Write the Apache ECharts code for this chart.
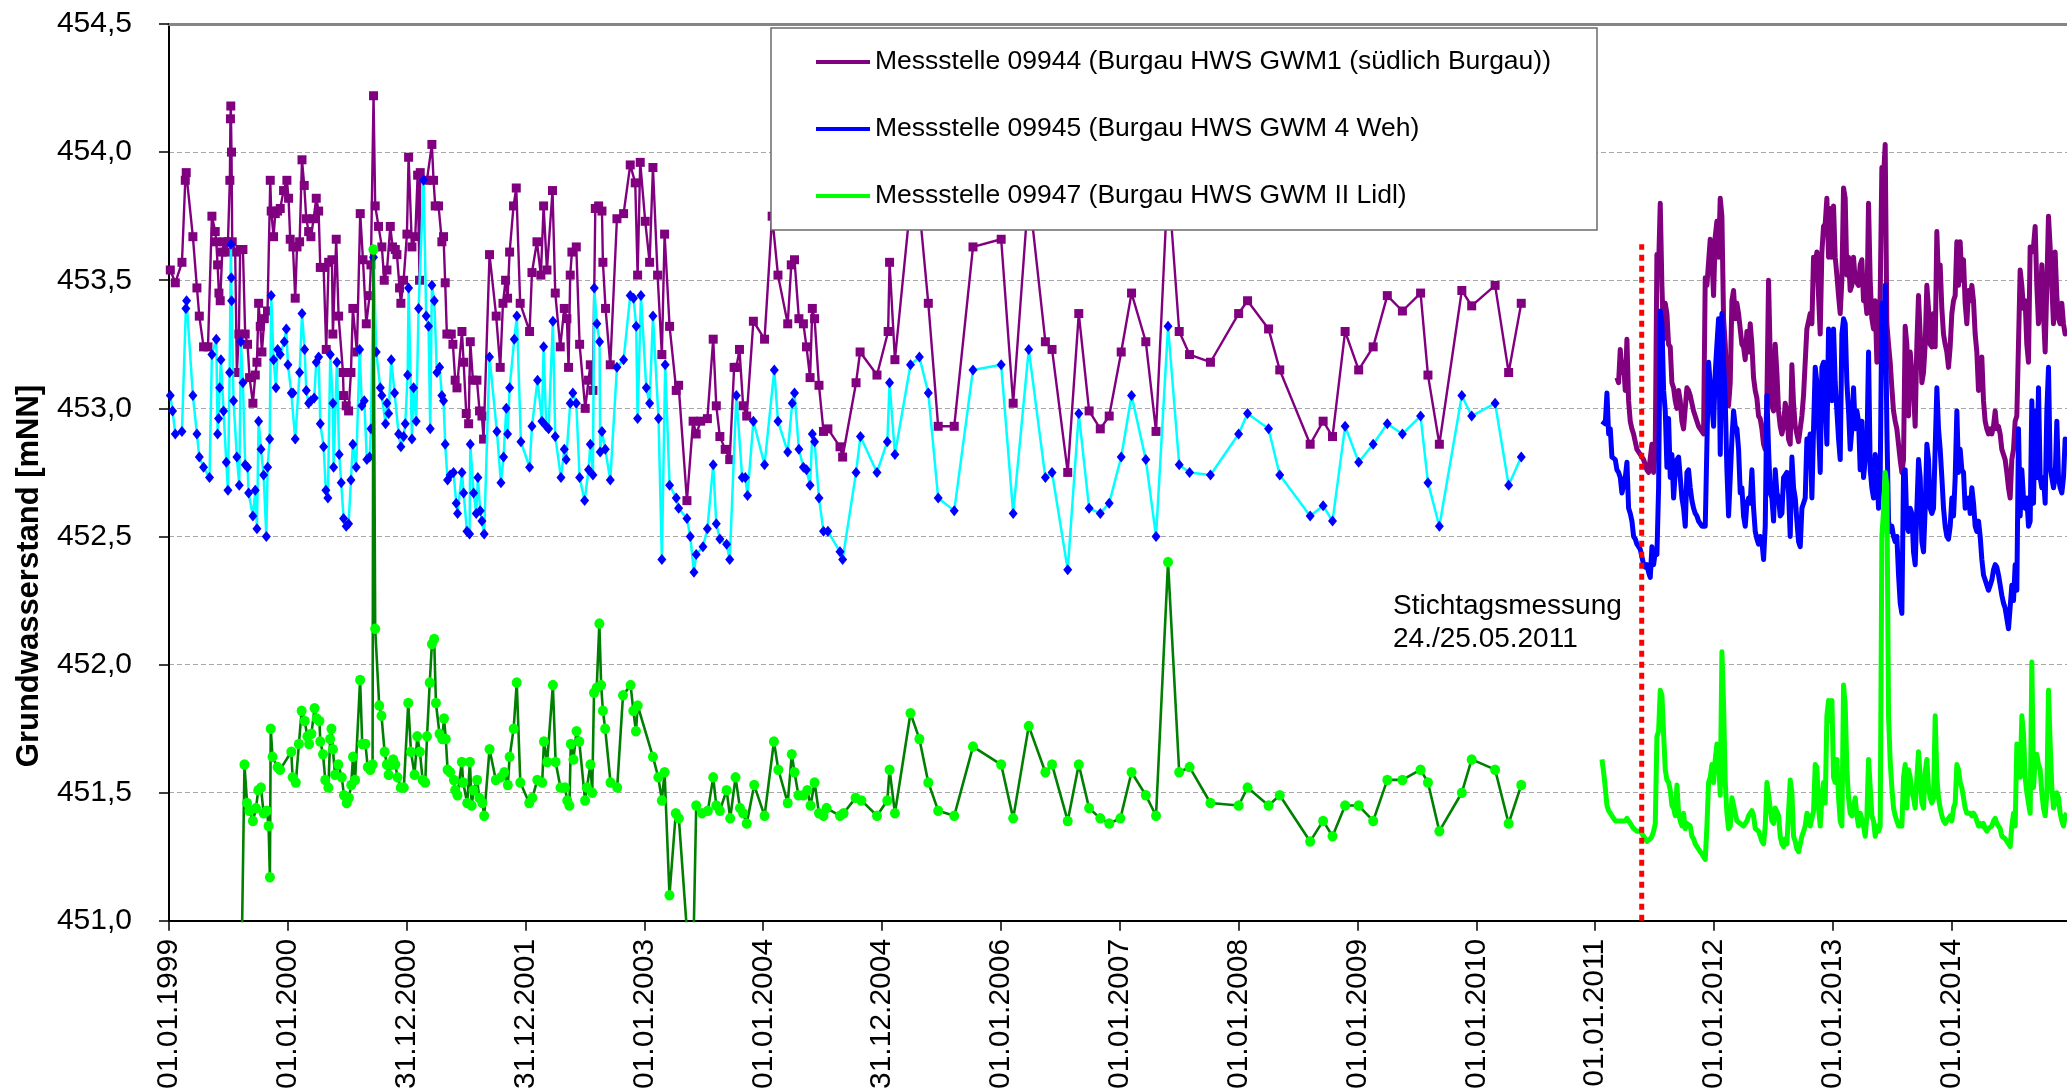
<!DOCTYPE html>
<html>
<head>
<meta charset="utf-8">
<title>Grundwasserstand Burgau</title>
<script src="https://cdn.jsdelivr.net/npm/echarts/dist/echarts.min.js"></script>
<style>
  html, body { margin: 0; padding: 0; background: #ffffff; }
  #chart { width: 2067px; height: 1092px; }
</style>
</head>
<body>
<div id="chart"></div>
<script>
// Time is given in decimal years (365.25-day units counted from 01.01.1999).
const xTickLabels = ['01.01.1999', '01.01.2000', '31.12.2000', '31.12.2001', '01.01.2003', '01.01.2004',
  '31.12.2004', '01.01.2006', '01.01.2007', '01.01.2008', '01.01.2009', '01.01.2010',
  '01.01.2011', '01.01.2012', '01.01.2013', '01.01.2014'];
const X_START = 1999;
const X_END = 2014.97;
const Y_MIN = 451.0;
const Y_MAX = 454.5;
const Y_STEP = 0.5;

const stationNames = [
  'Messstelle 09944 (Burgau HWS GWM1 (südlich Burgau))',
  'Messstelle 09945 (Burgau HWS GWM 4 Weh)',
  'Messstelle 09947 (Burgau HWS GWM II Lidl)'
];

// Reference day measurement
const stichtagDate = [2011, 5, 24];
const stichtagLabel = 'Stichtagsmessung\n24./25.05.2011';
const stichtagTop = 453.64;

// Single manual readings 1999-2010 [time, level mNN]
const m09944Hist = [[1999.011,453.54],[1999.053,453.49],[1999.109,453.57],[1999.137,453.89],[1999.145,453.92],[1999.201,453.67],[1999.235,453.47],[1999.255,453.36],[1999.291,453.24],[1999.328,453.24],[1999.361,453.75],[1999.389,453.69],[1999.398,453.65],[1999.409,453.56],[1999.420,453.45],[1999.431,453.42],[1999.448,453.61],[1999.465,453.65],[1999.479,453.61],[1999.496,453.65],[1999.512,453.89],[1999.517,454.13],[1999.520,454.18],[1999.526,454.00],[1999.532,453.65],[1999.557,453.61],[1999.571,453.14],[1999.588,453.29],[1999.599,453.62],[1999.622,453.62],[1999.641,453.29],[1999.661,453.25],[1999.678,453.12],[1999.706,453.02],[1999.726,453.13],[1999.740,453.18],[1999.754,453.41],[1999.768,453.32],[1999.782,453.22],[1999.802,453.35],[1999.829,453.38],[1999.852,453.89],[1999.860,453.77],[1999.880,453.67],[1999.894,453.76],[1999.914,453.77],[1999.936,453.78],[1999.964,453.85],[1999.992,453.89],[2000.006,453.82],[2000.020,453.66],[2000.043,453.63],[2000.062,453.43],[2000.077,453.63],[2000.099,453.65],[2000.119,453.97],[2000.138,453.87],[2000.155,453.74],[2000.175,453.69],[2000.194,453.67],[2000.217,453.74],[2000.239,453.82],[2000.259,453.77],[2000.273,453.55],[2000.301,453.55],[2000.323,453.23],[2000.343,453.57],[2000.371,453.58],[2000.379,453.29],[2000.407,453.66],[2000.427,453.36],[2000.464,453.14],[2000.469,453.05],[2000.491,453.01],[2000.511,452.99],[2000.531,453.14],[2000.547,453.39],[2000.581,453.22],[2000.609,453.76],[2000.632,453.58],[2000.660,453.33],[2000.688,453.44],[2000.699,453.56],[2000.721,454.22],[2000.735,453.79],[2000.763,453.71],[2000.791,453.63],[2000.811,453.50],[2000.834,453.54],[2000.862,453.71],[2000.881,453.63],[2000.904,453.62],[2000.918,453.60],[2000.940,453.47],[2000.951,453.41],[2000.974,453.50],[2001.002,453.68],[2001.016,453.98],[2001.044,453.63],[2001.072,453.67],[2001.092,453.91],[2001.108,453.50],[2001.114,453.92],[2001.170,453.89],[2001.212,454.03],[2001.226,453.89],[2001.240,453.79],[2001.268,453.79],[2001.296,453.65],[2001.310,453.67],[2001.324,453.49],[2001.338,453.29],[2001.375,453.29],[2001.389,453.25],[2001.408,453.11],[2001.423,453.08],[2001.465,453.30],[2001.479,453.18],[2001.501,452.98],[2001.521,452.94],[2001.535,453.26],[2001.557,453.11],[2001.591,453.11],[2001.613,452.99],[2001.633,452.97],[2001.647,452.88],[2001.697,453.60],[2001.753,453.36],[2001.787,453.16],[2001.810,453.41],[2001.832,453.50],[2001.849,453.43],[2001.866,453.61],[2001.899,453.79],[2001.922,453.86],[2001.955,453.41],[2002.034,453.30],[2002.054,453.53],[2002.096,453.65],[2002.129,453.52],[2002.152,453.79],[2002.180,453.54],[2002.227,453.85],[2002.250,453.45],[2002.292,453.24],[2002.326,453.39],[2002.348,453.35],[2002.362,453.16],[2002.376,453.52],[2002.390,453.61],[2002.427,453.63],[2002.455,453.25],[2002.502,453.00],[2002.530,453.11],[2002.545,453.17],[2002.567,453.07],[2002.587,453.78],[2002.615,453.79],[2002.643,453.77],[2002.651,453.57],[2002.673,453.39],[2002.713,453.17],[2002.769,453.74],[2002.825,453.76],[2002.881,453.95],[2002.923,453.88],[2002.943,453.52],[2002.965,453.96],[2003.007,453.73],[2003.044,453.57],[2003.072,453.94],[2003.111,453.52],[2003.147,453.21],[2003.170,453.68],[2003.212,453.32],[2003.268,453.07],[2003.288,453.09],[2003.358,452.64],[2003.410,452.95],[2003.436,452.90],[2003.474,452.95],[2003.530,452.96],[2003.579,453.27],[2003.605,453.01],[2003.635,452.89],[2003.680,452.84],[2003.718,452.80],[2003.755,453.16],[2003.774,453.16],[2003.800,453.23],[2003.831,453.01],[2003.861,452.97],[2003.917,453.34],[2004.011,453.27],[2004.075,453.75],[2004.124,453.52],[2004.206,453.33],[2004.236,453.56],[2004.263,453.58],[2004.300,453.35],[2004.338,453.33],[2004.364,453.24],[2004.394,453.12],[2004.413,453.39],[2004.432,453.35],[2004.469,453.09],[2004.507,452.91],[2004.544,452.92],[2004.646,452.85],[2004.668,452.81],[2004.781,453.10],[2004.815,453.22],[2004.957,453.13],[2005.051,453.30],[2005.063,453.57],[2005.108,453.19],[2005.239,453.80],[2005.314,453.78],[2005.389,453.41],[2005.472,452.93],[2005.607,452.93],[2005.765,453.63],[2006.002,453.66],[2006.103,453.02],[2006.234,453.85],[2006.374,453.26],[2006.430,453.23],[2006.562,452.75],[2006.655,453.37],[2006.742,452.99],[2006.836,452.92],[2006.911,452.97],[2007.012,453.22],[2007.099,453.45],[2007.219,453.26],[2007.305,452.91],[2007.406,453.90],[2007.500,453.30],[2007.587,453.21],[2007.763,453.18],[2008.000,453.37],[2008.075,453.42],[2008.252,453.31],[2008.346,453.15],[2008.602,452.86],[2008.711,452.95],[2008.790,452.89],[2008.896,453.30],[2009.010,453.15],[2009.132,453.24],[2009.251,453.44],[2009.378,453.38],[2009.531,453.45],[2009.593,453.13],[2009.689,452.86],[2009.878,453.46],[2009.961,453.40],[2010.158,453.48],[2010.272,453.14],[2010.378,453.41]];

const m09945Hist = [[1999.011,453.05],[1999.030,452.99],[1999.053,452.90],[1999.109,452.91],[1999.142,453.39],[1999.148,453.42],[1999.201,453.05],[1999.235,452.90],[1999.255,452.81],[1999.291,452.77],[1999.341,452.73],[1999.361,453.21],[1999.398,453.27],[1999.409,452.90],[1999.417,452.96],[1999.426,453.08],[1999.437,453.19],[1999.459,452.99],[1999.482,452.79],[1999.496,452.68],[1999.510,453.14],[1999.521,453.64],[1999.524,453.51],[1999.527,453.42],[1999.543,453.03],[1999.571,452.81],[1999.591,452.70],[1999.605,453.26],[1999.622,453.10],[1999.641,452.78],[1999.661,452.77],[1999.670,452.67],[1999.706,452.58],[1999.726,452.68],[1999.740,452.53],[1999.754,452.95],[1999.774,452.84],[1999.796,452.74],[1999.819,452.50],[1999.830,452.77],[1999.847,452.88],[1999.860,453.44],[1999.880,453.19],[1999.900,453.08],[1999.914,453.23],[1999.936,453.21],[1999.970,453.26],[1999.987,453.31],[2000.001,453.17],[2000.029,453.06],[2000.043,453.06],[2000.062,452.88],[2000.099,453.14],[2000.119,453.37],[2000.141,453.23],[2000.155,453.07],[2000.175,453.02],[2000.194,453.03],[2000.222,453.04],[2000.239,453.18],[2000.259,453.20],[2000.273,452.94],[2000.301,452.85],[2000.320,452.68],[2000.337,452.65],[2000.357,453.21],[2000.379,453.02],[2000.385,452.77],[2000.413,453.18],[2000.432,452.82],[2000.449,452.71],[2000.469,452.57],[2000.491,452.54],[2000.511,452.55],[2000.531,452.72],[2000.547,452.86],[2000.575,452.77],[2000.604,453.23],[2000.623,453.01],[2000.643,453.03],[2000.665,452.80],[2000.688,452.81],[2000.699,452.92],[2000.721,453.59],[2000.744,453.22],[2000.778,453.08],[2000.791,453.05],[2000.822,452.94],[2000.834,453.02],[2000.848,452.98],[2000.870,453.19],[2000.898,453.06],[2000.932,452.90],[2000.951,452.85],[2000.974,452.89],[2000.988,452.94],[2001.008,453.13],[2001.016,453.47],[2001.044,452.88],[2001.058,453.08],[2001.080,452.95],[2001.100,453.39],[2001.142,453.89],[2001.164,453.36],[2001.184,453.32],[2001.198,452.92],[2001.212,453.48],[2001.232,453.42],[2001.254,453.14],[2001.277,453.16],[2001.296,453.05],[2001.310,453.03],[2001.324,452.86],[2001.344,452.72],[2001.366,452.74],[2001.394,452.75],[2001.417,452.63],[2001.428,452.59],[2001.465,452.75],[2001.479,452.67],[2001.507,452.52],[2001.529,452.51],[2001.535,452.86],[2001.563,452.67],[2001.585,452.59],[2001.599,452.73],[2001.619,452.60],[2001.633,452.56],[2001.652,452.51],[2001.697,453.20],[2001.759,452.91],[2001.793,452.71],[2001.815,452.81],[2001.838,453.00],[2001.849,452.90],[2001.866,453.08],[2001.905,453.27],[2001.927,453.36],[2001.961,452.87],[2002.034,452.77],[2002.054,452.93],[2002.101,453.11],[2002.138,452.95],[2002.152,453.24],[2002.174,452.93],[2002.194,452.92],[2002.230,453.34],[2002.250,452.89],[2002.298,452.73],[2002.326,452.84],[2002.342,452.80],[2002.376,453.02],[2002.398,453.06],[2002.427,453.02],[2002.455,452.73],[2002.497,452.64],[2002.530,452.76],[2002.545,452.86],[2002.567,452.74],[2002.578,453.47],[2002.600,453.33],[2002.623,453.26],[2002.628,452.83],[2002.643,452.91],[2002.671,452.84],[2002.713,452.72],[2002.769,453.16],[2002.825,453.19],[2002.881,453.44],[2002.909,453.43],[2002.931,453.32],[2002.943,452.96],[2002.971,453.44],[2003.016,453.08],[2003.044,453.02],[2003.072,453.36],[2003.119,452.96],[2003.147,452.41],[2003.175,453.17],[2003.212,452.70],[2003.268,452.65],[2003.288,452.61],[2003.358,452.57],[2003.386,452.50],[2003.417,452.36],[2003.436,452.43],[2003.493,452.46],[2003.530,452.53],[2003.579,452.78],[2003.605,452.55],[2003.635,452.49],[2003.692,452.47],[2003.718,452.41],[2003.774,453.05],[2003.823,452.73],[2003.849,452.73],[2003.868,452.66],[2003.917,452.95],[2004.011,452.78],[2004.093,453.15],[2004.124,452.95],[2004.206,452.83],[2004.244,453.02],[2004.263,453.06],[2004.300,452.84],[2004.338,452.77],[2004.364,452.76],[2004.394,452.70],[2004.413,452.90],[2004.432,452.87],[2004.469,452.65],[2004.507,452.52],[2004.544,452.52],[2004.646,452.44],[2004.668,452.41],[2004.781,452.75],[2004.818,452.89],[2004.957,452.75],[2005.044,452.87],[2005.063,453.10],[2005.108,452.82],[2005.239,453.17],[2005.314,453.20],[2005.389,453.06],[2005.472,452.65],[2005.607,452.60],[2005.765,453.15],[2006.002,453.17],[2006.103,452.59],[2006.234,453.23],[2006.374,452.73],[2006.430,452.75],[2006.562,452.37],[2006.655,452.98],[2006.742,452.61],[2006.836,452.59],[2006.911,452.63],[2007.012,452.81],[2007.099,453.05],[2007.219,452.80],[2007.305,452.50],[2007.406,453.32],[2007.500,452.78],[2007.587,452.75],[2007.763,452.74],[2008.000,452.90],[2008.075,452.98],[2008.252,452.92],[2008.346,452.74],[2008.602,452.58],[2008.711,452.62],[2008.790,452.56],[2008.896,452.93],[2009.010,452.79],[2009.132,452.86],[2009.251,452.94],[2009.378,452.90],[2009.531,452.97],[2009.593,452.71],[2009.689,452.54],[2009.878,453.05],[2009.961,452.97],[2010.158,453.02],[2010.272,452.70],[2010.378,452.81]];

const m09947Hist = [[1999.600,450.50],[1999.635,451.61],[1999.657,451.46],[1999.676,451.43],[1999.706,451.39],[1999.732,451.44],[1999.751,451.51],[1999.774,451.52],[1999.796,451.42],[1999.823,451.43],[1999.838,451.37],[1999.849,451.17],[1999.856,451.75],[1999.871,451.64],[1999.913,451.60],[1999.935,451.59],[2000.029,451.66],[2000.040,451.56],[2000.067,451.54],[2000.093,451.69],[2000.116,451.82],[2000.142,451.78],[2000.164,451.72],[2000.179,451.69],[2000.198,451.73],[2000.225,451.83],[2000.243,451.79],[2000.266,451.78],[2000.273,451.70],[2000.296,451.65],[2000.315,451.55],[2000.341,451.52],[2000.356,451.71],[2000.367,451.75],[2000.379,451.67],[2000.397,451.57],[2000.424,451.61],[2000.454,451.56],[2000.472,451.49],[2000.495,451.46],[2000.514,451.48],[2000.533,451.53],[2000.548,451.64],[2000.566,451.55],[2000.608,451.94],[2000.626,451.69],[2000.653,451.69],[2000.672,451.60],[2000.694,451.59],[2000.713,451.61],[2000.720,453.62],[2000.735,452.14],[2000.769,451.84],[2000.788,451.80],[2000.814,451.66],[2000.833,451.61],[2000.848,451.57],[2000.871,451.61],[2000.886,451.63],[2000.904,451.61],[2000.923,451.56],[2000.950,451.52],[2000.976,451.52],[2001.013,451.85],[2001.036,451.66],[2001.066,451.57],[2001.089,451.72],[2001.111,451.66],[2001.134,451.55],[2001.156,451.54],[2001.171,451.72],[2001.194,451.93],[2001.212,452.08],[2001.231,452.10],[2001.246,451.85],[2001.276,451.73],[2001.299,451.71],[2001.314,451.79],[2001.329,451.71],[2001.344,451.59],[2001.366,451.58],[2001.397,451.55],[2001.408,451.51],[2001.427,451.49],[2001.464,451.62],[2001.475,451.54],[2001.509,451.46],[2001.532,451.62],[2001.547,451.45],[2001.562,451.51],[2001.592,451.55],[2001.611,451.48],[2001.637,451.46],[2001.652,451.41],[2001.697,451.67],[2001.750,451.55],[2001.791,451.56],[2001.821,451.58],[2001.851,451.53],[2001.866,451.64],[2001.900,451.75],[2001.926,451.93],[2001.956,451.54],[2002.031,451.46],[2002.058,451.48],[2002.099,451.55],[2002.140,451.54],[2002.155,451.70],[2002.182,451.62],[2002.230,451.92],[2002.253,451.62],[2002.294,451.52],[2002.332,451.52],[2002.351,451.47],[2002.369,451.45],[2002.381,451.69],[2002.403,451.63],[2002.429,451.74],[2002.452,451.70],[2002.501,451.47],[2002.516,451.52],[2002.546,451.61],[2002.561,451.50],[2002.576,451.89],[2002.599,451.91],[2002.621,452.16],[2002.636,451.92],[2002.651,451.82],[2002.670,451.75],[2002.715,451.54],[2002.771,451.52],[2002.820,451.88],[2002.884,451.92],[2002.907,451.82],[2002.929,451.74],[2002.944,451.84],[2003.072,451.64],[2003.117,451.56],[2003.147,451.47],[2003.170,451.58],[2003.211,451.10],[2003.264,451.42],[2003.290,451.40],[2003.403,450.67],[2003.436,451.45],[2003.485,451.42],[2003.534,451.43],[2003.579,451.56],[2003.605,451.45],[2003.635,451.43],[2003.692,451.51],[2003.722,451.40],[2003.767,451.56],[2003.804,451.44],[2003.831,451.42],[2003.861,451.38],[2003.924,451.53],[2004.011,451.41],[2004.090,451.70],[2004.127,451.59],[2004.206,451.46],[2004.240,451.65],[2004.263,451.58],[2004.296,451.49],[2004.338,451.49],[2004.371,451.51],[2004.398,451.45],[2004.432,451.54],[2004.469,451.42],[2004.507,451.41],[2004.533,451.44],[2004.646,451.41],[2004.676,451.42],[2004.777,451.48],[2004.826,451.47],[2004.957,451.41],[2005.044,451.47],[2005.063,451.59],[2005.108,451.42],[2005.239,451.81],[2005.314,451.71],[2005.389,451.54],[2005.472,451.43],[2005.607,451.41],[2005.765,451.68],[2006.002,451.61],[2006.103,451.40],[2006.234,451.76],[2006.374,451.58],[2006.430,451.61],[2006.562,451.39],[2006.655,451.61],[2006.742,451.44],[2006.836,451.40],[2006.911,451.38],[2007.005,451.40],[2007.099,451.58],[2007.219,451.49],[2007.305,451.41],[2007.406,452.40],[2007.500,451.58],[2007.587,451.60],[2007.763,451.46],[2008.000,451.45],[2008.075,451.52],[2008.252,451.45],[2008.346,451.49],[2008.602,451.31],[2008.711,451.39],[2008.790,451.33],[2008.896,451.45],[2009.010,451.45],[2009.132,451.39],[2009.251,451.55],[2009.378,451.55],[2009.531,451.59],[2009.593,451.54],[2009.689,451.35],[2009.878,451.50],[2009.961,451.63],[2010.158,451.59],[2010.272,451.38],[2010.378,451.53]];

// Logger records from 2011 on, one value every DAILY_STEP years (about 5 days)
const DAILY_STEP = 0.01402;
const m09944DailyStart = 2011.183;
const m09944Daily = [453.12,453.10,453.23,453.14,453.18,453.07,453.27,453.03,452.95,452.92,452.90,452.87,452.84,452.83,452.82,452.81,452.80,452.78,452.76,452.75,452.75,452.86,452.75,452.84,453.60,453.55,453.80,453.48,453.27,453.41,453.37,453.25,453.24,453.10,453.08,453.03,453.00,453.07,453.03,452.95,452.92,452.92,453.08,453.07,453.05,453.02,452.99,452.97,452.95,452.93,452.92,452.92,452.90,
  453.51,453.48,453.48,453.66,453.59,453.44,453.67,453.73,453.59,453.82,453.75,453.35,453.25,453.10,453.01,453.10,453.42,453.46,453.35,453.41,453.37,453.31,453.25,453.24,453.19,453.30,453.22,453.33,453.25,453.12,453.07,453.04,452.97,452.96,452.92,452.86,452.84,453.03,453.50,453.20,453.01,452.99,453.25,453.14,452.99,452.93,452.90,452.93,453.02,452.99,452.88,452.86,453.17,453.02,452.93,452.90,452.87,452.92,452.97,453.05,453.05,453.31,453.31,453.37,453.33,453.59,453.56,453.61,453.44,
  453.29,453.61,453.71,453.72,453.82,453.59,453.78,453.59,453.79,453.59,453.52,453.44,453.37,453.50,453.86,453.82,453.52,453.59,453.46,453.48,453.59,453.50,453.50,453.48,453.56,453.58,453.42,453.44,453.37,453.80,453.50,453.35,453.31,453.42,453.18,453.22,453.44,453.94,453.90,454.03,453.33,453.25,453.18,453.08,452.99,452.95,452.92,452.86,452.80,452.75,452.80,453.32,453.25,452.97,453.22,453.22,453.07,452.93,453.25,453.44,453.29,453.10,453.14,453.25,453.48,453.39,453.25,453.24,453.37,
  453.24,453.69,453.50,453.56,453.39,453.29,453.25,453.22,453.16,453.24,453.37,453.42,453.44,453.65,453.48,453.65,453.50,453.58,453.41,453.33,453.46,453.42,453.48,453.42,453.29,453.22,453.07,453.10,453.20,453.03,452.95,452.92,452.90,452.92,452.90,452.93,452.99,452.92,452.93,452.90,452.84,452.84,452.80,452.75,452.69,452.65,452.80,452.84,452.95,452.97,453.25,453.54,453.48,453.39,453.42,453.25,453.18,453.63,453.61,453.63,453.71,453.48,453.33,453.39,453.56,453.37,453.22,453.48,453.75,453.63,453.48,453.33,453.61,453.44,453.35,453.33,453.41,453.33,453.29,453.31];

const m09945DailyStart = 2011.057;
const m09945Daily = [452.95,452.95,452.94,453.06,452.90,452.92,452.81,452.81,452.80,452.76,452.75,452.73,452.67,452.67,452.73,452.79,452.61,452.59,452.56,452.50,452.49,452.47,452.46,452.45,452.42,452.39,452.38,452.39,452.36,452.34,452.46,452.39,452.44,452.43,452.69,453.38,453.33,453.07,452.99,452.77,452.96,452.73,452.82,452.65,452.75,452.80,452.81,452.73,452.65,452.61,452.54,452.75,452.76,452.69,452.64,452.61,452.59,452.58,452.56,452.55,452.54,452.54,
  452.54,452.86,453.18,453.18,453.01,452.93,453.14,453.25,453.35,452.82,453.37,453.18,453.03,452.76,452.58,452.58,452.88,452.99,452.93,452.92,452.84,452.67,452.69,452.58,452.54,452.63,452.65,452.63,452.76,452.61,452.52,452.49,452.47,452.50,452.48,452.41,452.54,453.05,452.84,452.67,452.65,452.56,452.76,452.67,452.65,452.58,452.59,452.73,452.74,452.75,452.67,452.50,452.81,452.69,452.65,452.56,452.48,452.46,452.61,452.63,452.65,452.88,452.86,452.90,452.65,452.92,453.16,453.10,453.10,
  452.75,453.16,453.18,453.03,452.86,453.31,453.25,453.03,453.31,453.10,452.99,452.88,452.80,453.29,453.35,453.33,453.10,452.99,452.84,452.92,453.08,452.92,452.99,452.95,452.76,452.95,452.73,452.80,452.84,453.22,452.76,452.69,452.65,452.82,452.75,452.61,452.73,453.41,453.20,453.48,452.92,452.56,452.52,452.54,452.50,452.48,452.50,452.35,452.24,452.20,452.75,452.76,452.54,452.52,452.61,452.59,452.44,452.39,452.61,452.80,452.73,452.48,452.44,452.61,452.86,452.80,452.61,452.59,452.61,
  452.61,453.08,452.92,452.84,452.73,452.61,452.54,452.50,452.49,452.54,452.65,452.58,452.73,452.99,452.75,452.84,452.76,452.75,452.61,452.61,452.65,452.59,452.69,452.63,452.54,452.52,452.56,452.50,452.41,452.35,452.33,452.31,452.29,452.31,452.33,452.37,452.39,452.38,452.35,452.31,452.27,452.24,452.22,452.18,452.14,452.14,452.31,452.25,452.39,452.29,452.92,452.58,452.76,452.65,452.61,452.65,452.54,452.56,453.03,452.63,452.99,452.73,453.08,452.73,452.69,452.73,452.63,452.99,453.16,452.77,452.73,452.69,452.73,452.95,452.73,452.69,452.67,452.73,452.88,452.84];

const m09947DailyStart = 2011.057;
const m09947Daily = [451.63,451.58,451.52,451.45,451.43,451.42,451.41,451.40,451.39,451.39,451.39,451.39,451.39,451.39,451.39,451.40,451.40,451.38,451.37,451.36,451.36,451.35,451.35,451.35,451.34,451.33,451.32,451.31,451.31,451.32,451.33,451.35,451.38,451.72,451.74,451.90,451.88,451.73,451.59,451.55,451.54,451.51,451.45,451.44,451.41,451.53,451.42,451.39,451.37,451.42,451.36,451.38,451.38,451.37,451.33,451.32,451.30,451.29,451.28,451.27,451.26,451.25,
  451.24,451.37,451.54,451.56,451.61,451.54,451.63,451.69,451.63,451.49,452.05,451.84,451.54,451.42,451.36,451.37,451.48,451.48,451.42,451.39,451.39,451.38,451.38,451.37,451.37,451.39,451.41,451.42,451.43,451.41,451.36,451.36,451.35,451.33,451.31,451.30,451.37,451.54,451.54,451.44,451.39,451.38,451.44,451.44,451.41,451.33,451.30,451.29,451.32,451.30,451.30,451.55,451.50,451.33,451.31,451.28,451.27,451.27,451.33,451.35,451.37,451.42,451.41,451.37,451.40,451.43,451.61,451.60,451.44,
  451.37,451.48,451.54,451.46,451.80,451.86,451.78,451.86,451.56,451.54,451.63,451.48,451.39,451.37,451.92,451.84,451.59,451.48,451.42,451.41,451.41,451.48,451.41,451.37,451.42,451.42,451.37,451.33,451.41,451.63,451.52,451.41,451.39,451.33,451.37,451.35,451.37,452.50,452.60,452.75,452.70,451.80,451.62,451.52,451.44,451.41,451.39,451.37,451.37,451.37,451.56,451.61,451.44,451.59,451.56,451.50,451.48,451.44,451.56,451.66,451.56,451.46,451.44,451.58,451.63,451.52,451.48,451.46,451.48,
  451.80,451.56,451.48,451.44,451.41,451.39,451.38,451.39,451.40,451.41,451.39,451.44,451.46,451.61,451.59,451.54,451.52,451.48,451.44,451.42,451.42,451.42,451.41,451.42,451.41,451.39,451.37,451.38,451.37,451.38,451.36,451.35,451.36,451.36,451.37,451.39,451.40,451.38,451.37,451.36,451.33,451.33,451.32,451.31,451.30,451.29,451.37,451.42,451.37,451.69,451.69,451.56,451.80,451.73,451.56,451.50,451.46,451.42,452.01,451.52,451.63,451.65,451.61,451.59,451.50,451.44,451.41,451.50,451.90,451.69,451.52,451.44,451.46,451.50,451.48,451.42,451.39,451.37,451.41,451.42];

const FONT = '"Liberation Sans", Arial, Helvetica, sans-serif';

function dateToAxis(y, m, d) {
  const days = (Date.UTC(y, m - 1, d) - Date.UTC(1999, 0, 1)) / 86400000;
  return 1999 + days / 365.25;
}

function sampled(start, values) {
  return values.map((v, i) => [start + i * DAILY_STEP, v]);
}

function histSeries(name, data, lineColor, lineWidth, symbol, symbolSize, symbolColor, z) {
  return {
    type: 'line', name: name, data: data, z: z, silent: true, clip: true,
    symbol: symbol, symbolSize: symbolSize, showSymbol: true, showAllSymbol: true,
    lineStyle: { color: lineColor, width: lineWidth },
    itemStyle: { color: symbolColor, borderWidth: 0 },
    emphasis: { disabled: true }
  };
}

function dailySeries(name, data, color, z) {
  return {
    type: 'line', name: name, data: data, z: z, silent: true, clip: true,
    symbol: 'none', showSymbol: false,
    lineStyle: { color: color, width: 5, join: 'round' },
    itemStyle: { color: color },
    emphasis: { disabled: true }
  };
}

const stichtagX = dateToAxis(stichtagDate[0], stichtagDate[1], stichtagDate[2]);

const chart = echarts.init(document.getElementById('chart'), null, { renderer: 'canvas' });

const option = {
  animation: false,
  backgroundColor: '#ffffff',
  grid: { left: 169, top: 24, right: 0, bottom: 168, containLabel: false },
  xAxis: [{
    type: 'value', min: X_START, max: X_END, interval: 1,
    axisLine: { show: true, onZero: false, lineStyle: { color: '#000000', width: 2 } },
    axisTick: { show: true, inside: false, length: 10, lineStyle: { color: '#000000', width: 1.5 } },
    axisLabel: {
      rotate: 90, margin: 18, fontSize: 30, fontFamily: FONT, color: '#000000',
      showMaxLabel: false,
      formatter: function (v) {
        const k = Math.round(v - X_START);
        if (Math.abs(v - X_START - k) > 1e-6) return '';
        return xTickLabels[k] || '';
      }
    },
    splitLine: { show: false }
  }, {
    type: 'value', position: 'top', min: X_START, max: X_END,
    axisLine: { show: true, onZero: false, lineStyle: { color: '#858585', width: 3 } },
    axisTick: { show: false }, axisLabel: { show: false }, splitLine: { show: false }
  }],
  yAxis: {
    type: 'value', min: Y_MIN, max: Y_MAX, interval: Y_STEP,
    axisLine: { show: true, onZero: false, lineStyle: { color: '#000000', width: 2 } },
    axisTick: { show: true, inside: false, length: 10, lineStyle: { color: '#000000', width: 1.5 } },
    axisLabel: {
      margin: 37, fontSize: 30, fontFamily: FONT, color: '#000000',
      formatter: function (v) { return v.toFixed(1).replace('.', ','); }
    },
    splitLine: { show: true, lineStyle: { color: '#a8a8a8', width: 1, type: [5, 3] } }
  },
  legend: {
    data: stationNames,
    orient: 'vertical', left: 771, top: 28,
    icon: 'rect', itemWidth: 54, itemHeight: 4, itemGap: 37, itemTextGap: 5,
    padding: [19, 46, 19, 45],
    backgroundColor: '#ffffff', borderColor: '#6a6a6a', borderWidth: 1.5,
    textStyle: { fontSize: 26.5, fontFamily: FONT, color: '#000000', lineHeight: 30 },
    selectedMode: false,
    z: 10
  },
  graphic: [
    {
      type: 'text', x: 29, y: 576, rotation: Math.PI / 2, z: 10,
      style: {
        text: 'Grundwasserstand [mNN]', font: 'bold 31px ' + FONT, fill: '#000000',
        textAlign: 'center', textVerticalAlign: 'middle'
      }
    },
    {
      type: 'text', x: 1393, y: 590, z: 10,
      style: {
        text: stichtagLabel, font: '28px ' + FONT, fill: '#000000',
        lineHeight: 33, textAlign: 'left', textVerticalAlign: 'top'
      }
    }
  ],
  series: [
    histSeries('Messstelle 09944 Einzelmessungen', m09944Hist, '#800080', 2.4, 'rect', 9, '#800080', 2),
    histSeries('Messstelle 09945 Einzelmessungen', m09945Hist, '#00ffff', 2.5, 'diamond', [9, 11], '#0000ff', 3),
    histSeries('Messstelle 09947 Einzelmessungen', m09947Hist, '#008000', 2.6, 'circle', [10, 10.5], '#00ff00', 4),
    dailySeries(stationNames[0], sampled(m09944DailyStart, m09944Daily), '#800080', 2),
    dailySeries(stationNames[1], sampled(m09945DailyStart, m09945Daily), '#0000ff', 3),
    dailySeries(stationNames[2], sampled(m09947DailyStart, m09947Daily), '#00ff00', 4),
    {
      type: 'line', name: 'Stichtag', silent: true, z: 6, symbol: 'none',
      data: [[stichtagX, Y_MIN], [stichtagX, stichtagTop]],
      lineStyle: { color: '#ff0000', width: 5, type: [6, 5] },
      emphasis: { disabled: true }
    }
  ]
};

chart.setOption(option);
</script>
</body>
</html>
